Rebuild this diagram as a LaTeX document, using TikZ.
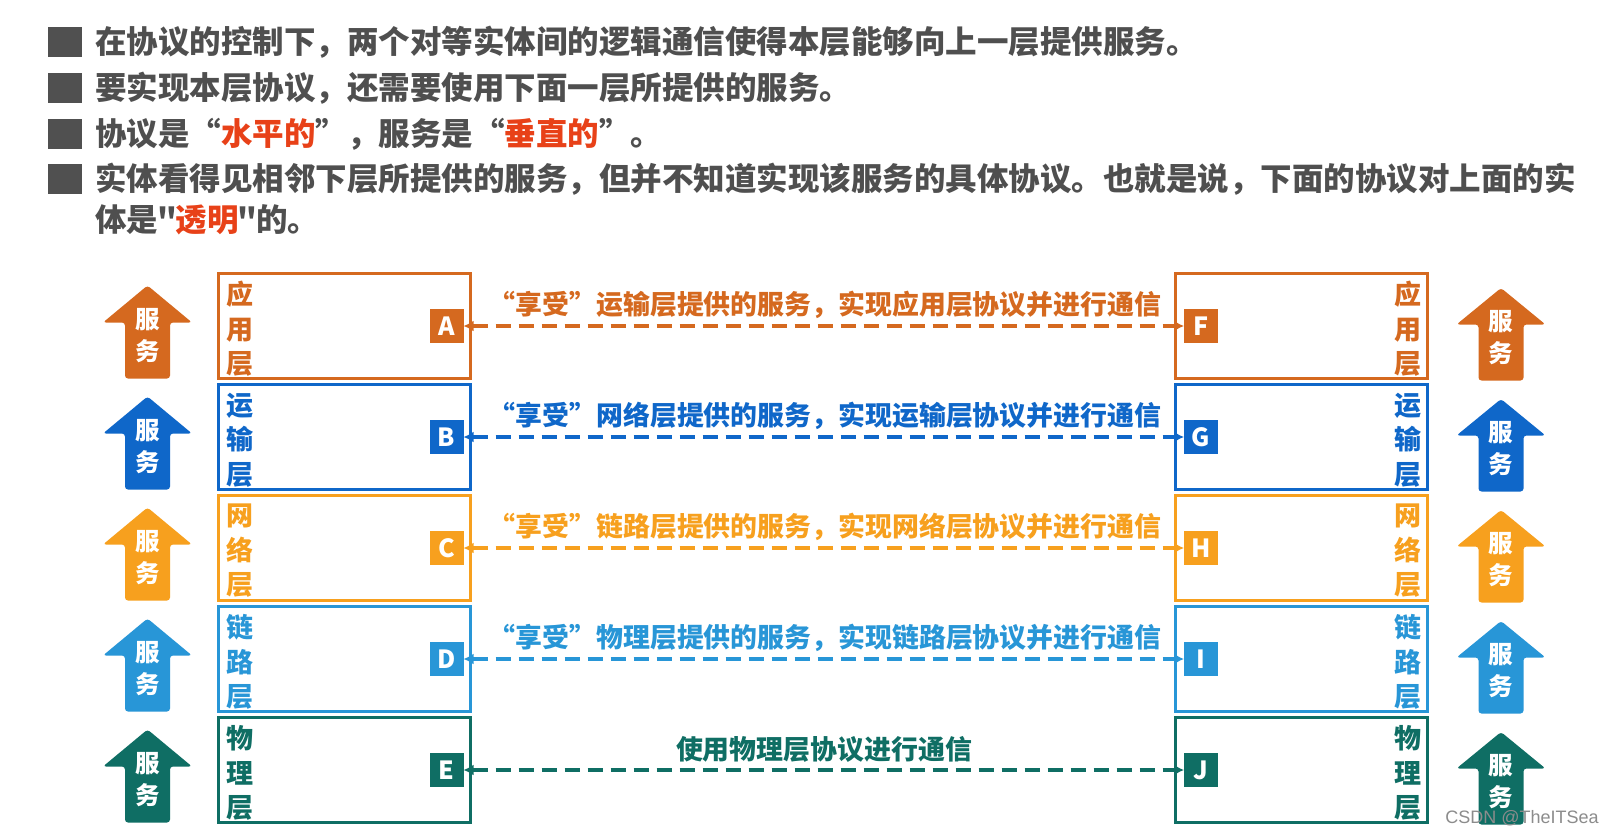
\documentclass[tikz,border=0pt]{standalone}
\usepackage{fontspec}
\setmainfont{Noto Sans CJK SC}
\newfontfamily\plainq{Noto Sans CJK SC}
\newfontfamily\wmfont{Liberation Sans}
\usetikzlibrary{arrows.meta}
\definecolor{txtgray}{HTML}{4F4F4F}
\definecolor{bulgray}{HTML}{505050}
\definecolor{hired}{HTML}{E84118}
\definecolor{capp}{HTML}{D5691F}
\definecolor{ctra}{HTML}{0F67C9}
\definecolor{cnet}{HTML}{F7A01E}
\definecolor{clnk}{HTML}{2896D7}
\definecolor{cphy}{HTML}{0F6E64}
\newcommand\fwlq{{\addfontfeature{CharacterWidth=Full}“}}
\newcommand\fwrq{{\addfontfeature{CharacterWidth=Full}”}}
\newcommand\stq{{\kern-1.2pt\plainq\bfseries"\kern-1.2pt}}
\tikzset{
  layerbox/.style={draw=#1, line width=3pt, minimum width=252pt, minimum height=105pt, inner sep=0pt, outer sep=0pt},
  sq/.style={fill=#1, minimum size=34pt, inner sep=0pt, outer sep=0pt, text=white, font=\fontsize{25}{25}\selectfont\bfseries},
  proto/.style={draw=#1, line width=4pt, dash pattern=on 15pt off 8pt, {Latex[length=10pt,width=11pt]}-{Latex[length=10pt,width=11pt]}},
  plabel/.style={text=#1, inner sep=0pt, font=\fontsize{26.9}{26.9}\selectfont\bfseries},
  lname/.style={text=#1, align=center, inner sep=0pt, font=\fontsize{27}{34.5}\selectfont\bfseries},
  svc/.style={fill=#1, rounded corners=3pt},
  svctext/.style={text=white, align=center, inner sep=0pt, font=\fontsize{24.5}{32}\selectfont\bfseries},
  bul/.style={fill=bulgray, minimum width=34pt, minimum height=30pt, inner sep=0pt},
  toptext/.style={anchor=west, inner sep=0pt, text=txtgray, font=\fontsize{31.5}{31.5}\selectfont\bfseries}
}
% #1 y centre, #2 colour, #3 left letter, #4 right letter, #5 layer name, #6 label, #7 label x
\newcommand\mylayer[7]{%
  \node[layerbox=#2] (box#3) at (344.75,#1) {};
  \node[layerbox=#2] (box#4) at (1301,#1) {};
  \node[sq=#2] (#3) at (446.5,#1) {#3};
  \node[sq=#2] (#4) at (1201,#1) {#4};
  \node[lname=#2] (nm#3) at (240,#1+3) {#5};
  \node[lname=#2] (nm#4) at (1408,#1+3) {#5};
  \draw[proto=#2] (#3) -- (#4);
  \node[plabel=#2] (lab#3) at (#7,#1-21) {#6};
  \fill[svc=#2] (147.5,#1-40.5) -- (192,#1-3.5) -- (170,#1-3.5) -- (170,#1+52.5)
     -- (125,#1+52.5) -- (125,#1-3.5) -- (103,#1-3.5) -- cycle;
  \node[svctext] (svl#3) at (147.5,#1+10) {服\\务};
  \fill[svc=#2] (1501,#1-38) -- (1545.5,#1-1.5) -- (1523.5,#1-1.5) -- (1523.5,#1+54.5)
     -- (1478.5,#1+54.5) -- (1478.5,#1-1.5) -- (1456.5,#1-1.5) -- cycle;
  \node[svctext] (svr#4) at (1501,#1+12) {服\\务};
}
\begin{document}
\begin{tikzpicture}[x=1pt,y=-1pt]
\fill[white] (0,0) rectangle (1614,835);
\useasboundingbox (0,0) rectangle (1614,835);

\node[bul] (b1) at (65,42) {};
\node[bul] (b2) at (65,88) {};
\node[bul] (b3) at (65,134) {};
\node[bul] (b4) at (65,179) {};
\node[toptext] (t1) at (95,42) {在协议的控制下，两个对等实体间的逻辑通信使得本层能够向上一层提供服务。};
\node[toptext] (t2) at (95,88) {要实现本层协议，还需要使用下面一层所提供的服务。};
\node[toptext] (t3) at (95,134) {协议是\fwlq{\color{hired}水平的}\fwrq，服务是\fwlq{\color{hired}垂直的}\fwrq。};
\node[toptext] (t4) at (95,179) {实体看得见相邻下层所提供的服务，但并不知道实现该服务的具体协议。也就是说，下面的协议对上面的实};
\node[toptext] (t5) at (95,220) {体是\stq{\color{hired}透明}\stq 的。};

\mylayer{326}{capp}{A}{F}{应\\用\\层}{\fwlq 享受\fwrq 运输层提供的服务，实现应用层协议并进行通信}{825}
\mylayer{437}{ctra}{B}{G}{运\\输\\层}{\fwlq 享受\fwrq 网络层提供的服务，实现运输层协议并进行通信}{825}
\mylayer{548}{cnet}{C}{H}{网\\络\\层}{\fwlq 享受\fwrq 链路层提供的服务，实现网络层协议并进行通信}{825}
\mylayer{659}{clnk}{D}{I}{链\\路\\层}{\fwlq 享受\fwrq 物理层提供的服务，实现链路层协议并进行通信}{825}
\mylayer{770}{cphy}{E}{J}{物\\理\\层}{使用物理层协议进行通信}{824}

\node[text=black!45, inner sep=0pt, font=\wmfont\fontsize{18}{18}\selectfont] (wm) at (1522,818) {CSDN @TheITSea};
\end{tikzpicture}
\end{document}
